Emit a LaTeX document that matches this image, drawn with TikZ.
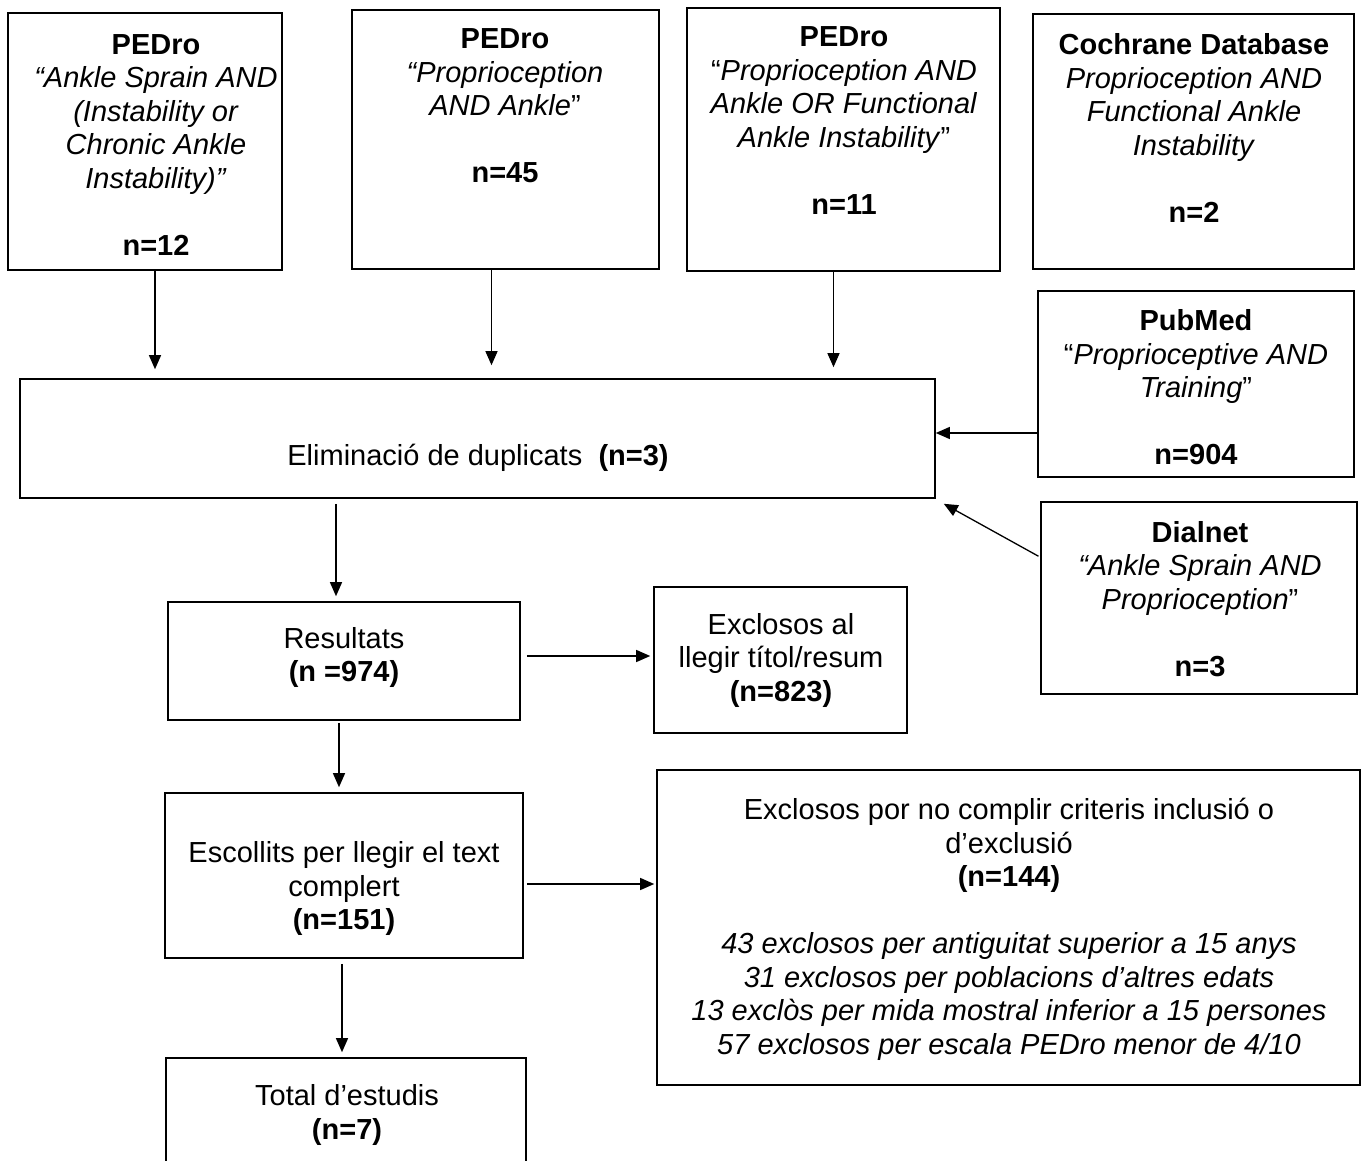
\documentclass[tikz,border=0pt]{standalone}
\usepackage{fontspec}
\setmainfont{Liberation Sans}
\usetikzlibrary{arrows.meta,fit}

\tikzset{
  frame/.style={draw, line width=0.8pt, inner sep=0pt},
  txt/.style={align=center, inner sep=0pt, font=\fontsize{14.5pt}{16.75pt}\selectfont},
  arr/.style={-{Triangle[length=7pt,width=6pt]}, line width=0.65pt},
}

\begin{document}
\begin{tikzpicture}[x=0.5pt,y=-0.5pt]
        \clip (0,0) rectangle (1361,1161);

        % Search boxes
        \node[frame, fit={(8,13) (282,270)}] (ped1) {};
        \node[frame, fit={(352,10) (659,269)}] (ped2) {};
        \node[frame, fit={(687,8) (1000,271)}] (ped3) {};
        \node[frame, fit={(1033,14) (1354,269)}] (coch) {};
        \node[frame, fit={(1038,291) (1354,477)}] (pub) {};
        \node[frame, fit={(1041,502) (1357,694)}] (dial) {};

        \node[txt] (ped1t) at (156,145) {\textbf{PEDro}\\ \textit{“Ankle Sprain AND}\\ \textit{(Instability or}\\ \textit{Chronic Ankle}\\ \textit{Instability)”}\\ ~\\ \textbf{n=12}};
        \node[txt] (ped2t) at (505,106) {\textbf{PEDro}\\ \textit{“Proprioception}\\ \textit{AND Ankle}”\\ ~\\ \textbf{n=45}};
        \node[txt] (ped3t) at (844,120.5) {\textbf{PEDro}\\ “\textit{Proprioception AND}\\ \textit{Ankle OR Functional}\\ \textit{Ankle Instability}”\\ ~\\ \textbf{n=11}};
        \node[txt] (cocht) at (1194,128) {\textbf{Cochrane Database}\\ \textit{Proprioception AND}\\ \textit{Functional Ankle}\\ \textit{Instability}\\ ~\\ \textbf{n=2}};
        \node[txt] (pubt) at (1196,387.5) {\textbf{PubMed}\\ “\textit{Proprioceptive AND}\\ \textit{Training}”\\ ~\\ \textbf{n=904}};
        \node[txt] (dialt) at (1200,599) {\textbf{Dialnet}\\ \textit{“Ankle Sprain AND}\\ \textit{Proprioception}”\\ ~\\ \textbf{n=3}};

        % Flow boxes
        \node[frame, fit={(20,379) (935,498)}] (elim) {};
        \node[frame, fit={(168,602) (520,720)}] (res) {};
        \node[frame, fit={(654,587) (907,733)}] (exc1) {};
        \node[frame, fit={(165,793) (523,958)}] (esc) {};
        \node[frame, fit={(657,770) (1360,1085)}] (exc2) {};
        \node[frame, fit={(166,1058) (526,1190)}] (tot) {};

        \node[txt] (elimt) at (478,458) {Eliminació de duplicats\ \ \textbf{(n=3)}};
        \node[txt] (rest) at (344,657.5) {Resultats\\ \textbf{(n =974)}};
        \node[txt] (exc1t) at (781,660) {Exclosos al\\ llegir títol/resum\\ \textbf{(n=823)}};
        \node[txt] (esct) at (344,888.5) {Escollits per llegir el text\\ complert\\ \textbf{(n=151)}};
        \node[txt] (exc2t) at (1009,929.5) {Exclosos por no complir criteris inclusió o\\ d’exclusió\\ \textbf{(n=144)}\\ ~\\
          \textit{43 exclosos per antiguitat superior a 15 anys}\\
          \textit{31 exclosos per poblacions d’altres edats}\\
          \textit{13 exclòs per mida mostral inferior a 15 persones}\\
          \textit{57 exclosos per escala PEDro menor de 4/10}};
        \node[txt] (tott) at (347,1115) {Total d’estudis\\ \textbf{(n=7)}};

        % Edges
        \draw[arr, shorten >=4.5pt] ([xshift=5pt]ped1.south) -- ([xshift=5pt]ped1.south |- elim.north);
        \draw[arr, shorten >=6.5pt] ([xshift=-7pt]ped2.south) -- ([xshift=-7pt]ped2.south |- elim.north);
        \draw[arr, shorten >=5.5pt] ([xshift=-5pt]ped3.south) -- ([xshift=-5pt]ped3.south |- elim.north);
        \draw[arr] ([yshift=-24.5pt]pub.west) -- ([yshift=-24.5pt]pub.west -| elim.east);
        \draw[arr, shorten <=1pt] ([yshift=-28pt]dial.north west) -- ([shift={(4pt,-2.5pt)}]elim.south east);
        \draw[arr, shorten <=2.5pt, shorten >=2.5pt] ([xshift=-4pt]res.north |- elim.south) -- ([xshift=-4pt]res.north);
        \draw[arr, shorten <=3pt, shorten >=1.5pt] ([yshift=2.5pt]res.east) -- ([yshift=2.5pt]res.east -| exc1.west);
        \draw[arr, shorten <=1pt, shorten >=2.5pt] ([xshift=-2.5pt]res.south) -- ([xshift=-2.5pt]res.south |- esc.north);
        \draw[arr, shorten <=1.5pt, shorten >=1pt] ([yshift=-4.25pt]esc.east) -- ([yshift=-4.25pt]esc.east -| exc2.west);
        \draw[arr, shorten <=2.5pt, shorten >=2.5pt] ([xshift=-1pt]esc.south) -- ([xshift=-1pt]esc.south |- tot.north);
\end{tikzpicture}
\end{document}
